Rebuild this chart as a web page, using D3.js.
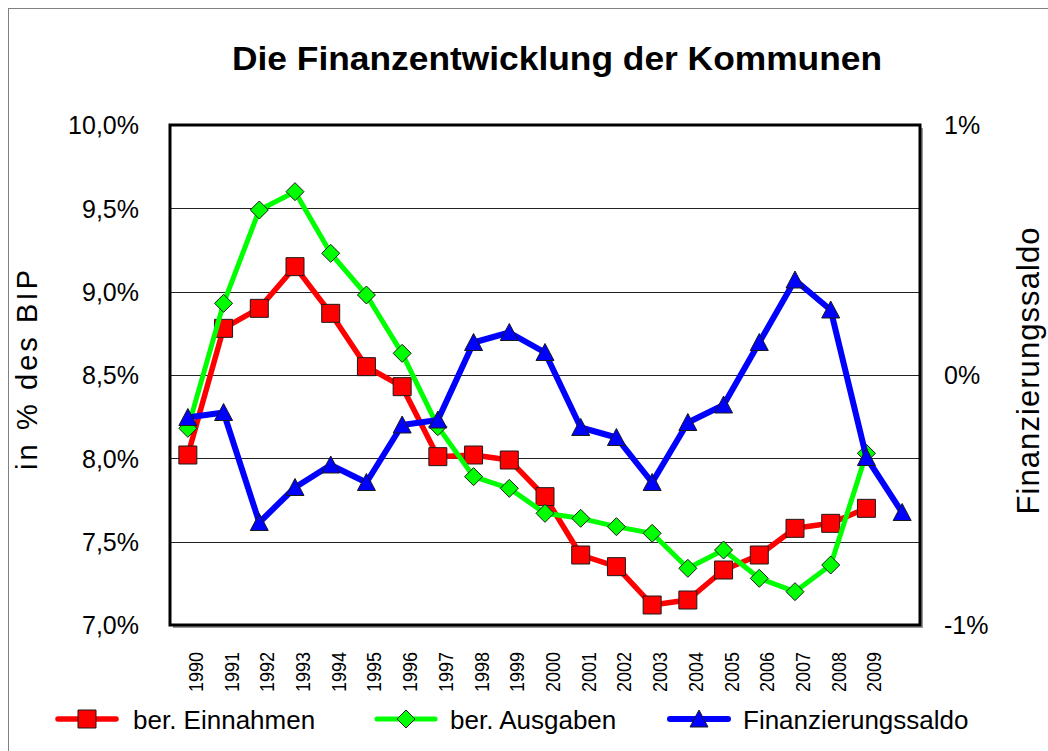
<!DOCTYPE html>
<html>
<head>
<meta charset="utf-8">
<script src="https://cdn.jsdelivr.net/npm/d3@7"></script>
<style>
  html, body { margin: 0; padding: 0; background: #fff; }
  svg { display: block; font-family: "Liberation Sans", Arial, sans-serif; }
</style>
</head>
<body>
<svg id="chart" width="1048" height="751"></svg>
<script>
// ---- data ----
const categories = ["1990","1991","1992","1993","1994","1995","1996","1997","1998","1999",
                    "2000","2001","2002","2003","2004","2005","2006","2007","2008","2009","2010"];
const xTickLabels = ["1990","1991","1992","1993","1994","1995","1996","1997","1998","1999",
                     "2000","2001","2002","2003","2004","2005","2006","2007","2008","2009",""];
const einnahmen = [8.02, 8.78, 8.90, 9.15, 8.87, 8.55, 8.43, 8.01, 8.02, 7.99,
                   7.77, 7.42, 7.35, 7.12, 7.15, 7.33, 7.42, 7.58, 7.61, 7.70];
const ausgaben  = [8.18, 8.93, 9.49, 9.60, 9.23, 8.98, 8.63, 8.19, 7.89, 7.82,
                   7.67, 7.64, 7.59, 7.55, 7.34, 7.45, 7.28, 7.20, 7.36, 8.03];
const saldo     = [-0.17, -0.15, -0.59, -0.45, -0.36, -0.43, -0.20, -0.18, 0.13, 0.17,
                   0.09, -0.21, -0.25, -0.43, -0.19, -0.12, 0.13, 0.38, 0.26, -0.33, -0.55];
const leftTicks = [7.0, 7.5, 8.0, 8.5, 9.0, 9.5, 10.0];
const leftTickLabels = ["7,0%","7,5%","8,0%","8,5%","9,0%","9,5%","10,0%"];
const rightTicks = [-1, 0, 1];
const rightTickLabels = ["-1%","0%","1%"];
const seriesNames = ["ber. Einnahmen", "ber. Ausgaben", "Finanzierungssaldo"];
const titleText = "Die Finanzentwicklung der Kommunen";
const leftTitle = "in % des BIP";
const rightTitle = "Finanzierungssaldo";

// ---- layout ----
const svg = d3.select("#chart");
const P = { left: 170, right: 920, top: 125, bottom: 625 };

// outer chart border
svg.append("rect").attr("x", 8.5).attr("y", 8.5).attr("width", 1046).attr("height", 750)
  .attr("fill", "#fff").attr("stroke", "#808080").attr("stroke-width", 1);

const x = d3.scaleBand().domain(categories).range([P.left, P.right]).padding(0);
const cx = c => x(c) + x.bandwidth() / 2;
const yL = d3.scaleLinear().domain([7, 10]).range([P.bottom, P.top]);
const yR = d3.scaleLinear().domain([-1, 1]).range([P.bottom, P.top]);

// plot area shadow + background
svg.append("rect").attr("x", P.left + 3).attr("y", P.top + 3)
  .attr("width", P.right - P.left).attr("height", P.bottom - P.top)
  .attr("fill", "#9a9a9a");
svg.append("rect").attr("x", P.left).attr("y", P.top)
  .attr("width", P.right - P.left).attr("height", P.bottom - P.top)
  .attr("fill", "#fff");

// gridlines
svg.append("g").selectAll("line").data(leftTicks.slice(1, -1)).join("line")
  .attr("x1", P.left).attr("x2", P.right)
  .attr("y1", d => Math.round(yL(d)) + 0.5).attr("y2", d => Math.round(yL(d)) + 0.5)
  .attr("stroke", "#222").attr("stroke-width", 1);

// plot border
svg.append("rect").attr("x", P.left).attr("y", P.top)
  .attr("width", P.right - P.left).attr("height", P.bottom - P.top)
  .attr("fill", "none").attr("stroke", "#000").attr("stroke-width", 3);

// left axis
const gL = svg.append("g").attr("transform", `translate(${P.left},0)`)
  .call(d3.axisLeft(yL).tickValues(leftTicks).tickSize(0).tickPadding(31)
    .tickFormat((d, i) => leftTickLabels[i]));
gL.select(".domain").remove();
gL.selectAll("text").attr("font-size", 25).attr("fill", "#000")
  .attr("font-family", "Liberation Sans, Arial, sans-serif").attr("dy", "0.35em");

// right axis
const gR = svg.append("g").attr("transform", `translate(${P.right},0)`)
  .call(d3.axisRight(yR).tickValues(rightTicks).tickSize(0).tickPadding(24)
    .tickFormat((d, i) => rightTickLabels[i]));
gR.select(".domain").remove();
gR.selectAll("text").attr("font-size", 25).attr("fill", "#000")
  .attr("font-family", "Liberation Sans, Arial, sans-serif").attr("dy", "0.35em");

// bottom axis (rotated labels)
const gX = svg.append("g").attr("transform", `translate(0,${P.bottom})`)
  .call(d3.axisBottom(x).tickSize(0).tickFormat((d, i) => xTickLabels[i]));
gX.select(".domain").remove();
gX.selectAll("text")
  .attr("font-size", 20).attr("fill", "#000")
  .attr("font-family", "Liberation Sans, Arial, sans-serif")
  .attr("text-anchor", "end")
  .attr("transform", "rotate(-90)")
  .attr("x", -27).attr("y", 15).attr("dy", 0)
  .each(function () { if (this.textContent) d3.select(this).attr("textLength", 40).attr("lengthAdjust", "spacingAndGlyphs"); });

// titles
svg.append("text").attr("x", 557).attr("y", 70).attr("text-anchor", "middle")
  .attr("font-size", 33).attr("font-weight", "bold")
  .attr("textLength", 650).attr("lengthAdjust", "spacingAndGlyphs")
  .text(titleText);
svg.append("text").attr("transform", "translate(37,370) rotate(-90)")
  .attr("text-anchor", "middle").attr("font-size", 29)
  .attr("textLength", 200)
  .text(leftTitle);
svg.append("text").attr("transform", "translate(1039,371) rotate(-90)")
  .attr("text-anchor", "middle").attr("font-size", 31)
  .attr("textLength", 287)
  .text(rightTitle);

// series
const series = [
  { name: seriesNames[0], values: einnahmen, y: yL, color: "#ff0000", width: 5.5, marker: "square" },
  { name: seriesNames[1], values: ausgaben,  y: yL, color: "#00ff00", width: 5,   marker: "diamond" },
  { name: seriesNames[2], values: saldo,     y: yR, color: "#0000ff", width: 6,   marker: "triangle" }
];

function markerPath(type) {
  if (type === "square") return "M-9,-9H9V9H-9Z";
  if (type === "diamond") return "M0,-9L9,0L0,9L-9,0Z";
  return "M0,-9L9,8H-9Z";
}

series.forEach(s => {
  const pts = s.values.map((v, i) => [cx(categories[i]), s.y(v)]);
  svg.append("path").datum(pts)
    .attr("d", d3.line())
    .attr("fill", "none").attr("stroke", s.color).attr("stroke-width", s.width)
    .attr("stroke-linejoin", "round");
  svg.append("g").selectAll("path").data(pts).join("path")
    .attr("transform", d => `translate(${d[0]},${d[1]})`)
    .attr("d", markerPath(s.marker))
    .attr("fill", s.color).attr("stroke", "#1a1a1a").attr("stroke-width", 1);
});

// legend
const legendPos = [{ lx: 58, tx: 133 }, { lx: 377, tx: 450 }, { lx: 670, tx: 743 }];
const legendY = 719;
const lg = svg.append("g");
series.forEach((s, i) => {
  const p = legendPos[i];
  lg.append("line").attr("x1", p.lx).attr("x2", p.lx + 58)
    .attr("y1", legendY).attr("y2", legendY)
    .attr("stroke", s.color).attr("stroke-width", s.width).attr("stroke-linecap", "round");
  lg.append("path").attr("transform", `translate(${p.lx + 29},${legendY})`)
    .attr("d", markerPath(s.marker))
    .attr("fill", s.color).attr("stroke", "#1a1a1a").attr("stroke-width", 1);
  lg.append("text").attr("x", p.tx).attr("y", legendY + 10)
    .attr("font-size", 26).attr("fill", "#000").text(s.name);
});
</script>
</body>
</html>
